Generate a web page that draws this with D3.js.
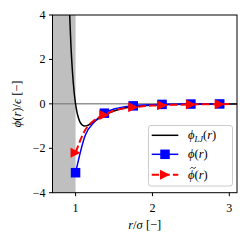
<!DOCTYPE html>
<html><head><meta charset="utf-8">
<script src="https://cdn.jsdelivr.net/npm/d3@7"></script>
<style>body{margin:0;background:#fff;} svg text{font-family:"Liberation Serif","DejaVu Serif",serif;fill:#000;}</style>
</head><body><svg id="c" width="252" height="242"></svg>
<script>
// ---- data ----
const rLJ = [0.90,0.92,0.94,0.96,0.98,1.00,1.02,1.04,1.06,1.08,1.10,1.12,1.15,1.20,1.25,1.30,1.40,1.50,1.60,1.80,2.00,2.25,2.50,2.75,3.00,3.10];
const phiLJ = [6.64,4.28,2.61,1.42,0.58,0,-0.40,-0.66,-0.83,-0.93,-0.98,-1.00,-0.98,-0.89,-0.77,-0.66,-0.46,-0.32,-0.22,-0.11,-0.06,-0.03,-0.016,-0.009,-0.005,-0.004];
const rFit = [1.000,1.125,1.250,1.375,1.500,1.625,1.750,1.875,2.000,2.125,2.250,2.375,2.500,2.625,2.750,2.875,3.000];
const phi = [-3.10,-1.42,-0.80,-0.42,-0.23,-0.14,-0.09,-0.055,-0.037,-0.025,-0.017,-0.012,-0.009,-0.006,-0.005,-0.004,-0.003];
const phiTilde = [-2.20,-1.18,-0.72,-0.50,-0.31,-0.21,-0.15,-0.108,-0.079,-0.059,-0.045,-0.035,-0.027,-0.021,-0.017,-0.014,-0.011];
const markEvery = 3;
const xTicks = [1,2,3];
const yTicks = [-4,-2,0,2,4];
const xDomain = [0.7,3.1];
const yDomain = [-4,4];
const shadeRange = [0.7,1.0];

// ---- layout ----
const svg = d3.select("#c");
const L = 52.5, T = 15, W = 184.5, H = 177.7;
const x = d3.scaleLinear().domain(xDomain).range([L, L+W]);
const y = d3.scaleLinear().domain(yDomain).range([T+H, T]);

svg.append("defs").append("clipPath").attr("id","clip")
  .append("rect").attr("x",L).attr("y",T).attr("width",W).attr("height",H);
const g = svg.append("g").attr("clip-path","url(#clip)");

// shaded region
g.append("rect").attr("x",x(shadeRange[0])).attr("y",T)
  .attr("width",x(shadeRange[1])-x(shadeRange[0])).attr("height",H)
  .attr("fill","#bfbfbf");
// zero line
g.append("line").attr("x1",L).attr("x2",L+W).attr("y1",y(0)).attr("y2",y(0))
  .attr("stroke","#808080").attr("stroke-width",1.5).attr("opacity",0.85);

// LJ
const lineLJ = d3.line().x((d,i)=>x(rLJ[i])).y(d=>y(d)).curve(d3.curveMonotoneX);
g.append("path").attr("d",lineLJ(phiLJ)).attr("fill","none").attr("stroke","#000").attr("stroke-width",1.5);

// phi
const lineF = d3.line().x((d,i)=>x(rFit[i])).y(d=>y(d)).curve(d3.curveMonotoneX);
g.append("path").attr("d",lineF(phi)).attr("fill","none").attr("stroke","#0000ff").attr("stroke-width",1.5);
const sq = 9.5;
function square(sel, cx, cy){
  sel.append("rect").attr("x",cx-sq/2).attr("y",cy-sq/2).attr("width",sq).attr("height",sq).attr("fill","#0000ff");
}
function tri(sel, cx, cy){
  const s=5;
  sel.append("path").attr("d",`M${cx+s},${cy} L${cx-s},${cy-s} L${cx-s},${cy+s} Z`).attr("fill","#ff0000");
}
phi.forEach((v,i)=>{ if(i%markEvery===0) square(g, x(rFit[i]), y(v)); });

// phi tilde
g.append("path").attr("d",lineF(phiTilde)).attr("fill","none").attr("stroke","#ff0000")
  .attr("stroke-width",2).attr("stroke-dasharray","7.4,3.2");
phiTilde.forEach((v,i)=>{ if(i%markEvery===0) tri(g, x(rFit[i]), y(v)); });

// frame
svg.append("rect").attr("x",L).attr("y",T).attr("width",W).attr("height",H)
  .attr("fill","none").attr("stroke","#000").attr("stroke-width",1);

// axes
const fs = 12;
xTicks.forEach(t=>{
  svg.append("line").attr("x1",x(t)).attr("x2",x(t)).attr("y1",T+H).attr("y2",T+H+3.5).attr("stroke","#000").attr("stroke-width",1);
  svg.append("text").attr("x",x(t)).attr("y",211.5).attr("text-anchor","middle").attr("font-size",fs).text(t);
});
yTicks.forEach(t=>{
  svg.append("line").attr("x1",L-3.5).attr("x2",L).attr("y1",y(t)).attr("y2",y(t)).attr("stroke","#000").attr("stroke-width",1);
  svg.append("text").attr("x",L-7).attr("y",y(t)+4).attr("text-anchor","end").attr("font-size",fs).text(t<0?"\u2212"+Math.abs(t):t);
});

// axis labels
const fl = 12.5;
const xl = svg.append("text").attr("x",L+W/2).attr("y",229).attr("text-anchor","middle").attr("font-size",fl);
xl.append("tspan").attr("font-style","italic").text("r");
xl.append("tspan").text("/");
xl.append("tspan").attr("font-style","italic").text("σ");
xl.append("tspan").text(" [\u2212]");

const yl = svg.append("text").attr("transform",`translate(21,${T+H/2}) rotate(-90)`).attr("text-anchor","middle").attr("font-size",fl);
yl.append("tspan").attr("font-style","italic").text("ϕ");
yl.append("tspan").text("(");
yl.append("tspan").attr("font-style","italic").text("r");
yl.append("tspan").text(")/");
yl.append("tspan").attr("font-style","italic").text("ϵ");
yl.append("tspan").text(" [\u2212]");

// legend
const lg = svg.append("g");
lg.append("rect").attr("x",148.5).attr("y",125.5).attr("width",84).attr("height",60.5).attr("rx",2.5)
  .attr("fill","#fff").attr("fill-opacity",0.8).attr("stroke","#cccccc").attr("stroke-width",1);
const ly = [135.3,154.3,174.7];
const lx1 = 151.7, lx2 = 178.3, lxm = (lx1+lx2)/2, tx = 188;
lg.append("line").attr("x1",lx1).attr("x2",lx2).attr("y1",ly[0]).attr("y2",ly[0]).attr("stroke","#000").attr("stroke-width",1.5);
lg.append("line").attr("x1",lx1).attr("x2",lx2).attr("y1",ly[1]).attr("y2",ly[1]).attr("stroke","#0000ff").attr("stroke-width",1.5);
square(lg, lxm, ly[1]);
lg.append("line").attr("x1",lx1).attr("x2",lx2).attr("y1",ly[2]).attr("y2",ly[2]).attr("stroke","#ff0000").attr("stroke-width",2).attr("stroke-dasharray","7.4,3.2");
tri(lg, lxm, ly[2]);

function lab(yy, sub, tilde){
  const t = lg.append("text").attr("x",tx).attr("y",yy+4).attr("font-size",fl);
  t.append("tspan").attr("font-style","italic").text("ϕ");
  if(sub){
    t.append("tspan").attr("font-style","italic").attr("font-size",8.5).attr("dy",2.5).text(sub);
    t.append("tspan").attr("dy",-2.5).text("(");
  } else t.append("tspan").text("(");
  t.append("tspan").attr("font-style","italic").text("r");
  t.append("tspan").text(")");
  if(tilde){
    const a = tx+2.2, b = yy-6.8;
    lg.append("path").attr("d",`M${a},${b+0.8} C${a+1},${b-0.8} ${a+2},${b-0.6} ${a+2.8},${b} S${a+4.6},${b+0.8} ${a+5.6},${b-0.8}`)
      .attr("fill","none").attr("stroke","#000").attr("stroke-width",0.8);
  }
}
lab(ly[0],"LJ",false);
lab(ly[1],null,false);
lab(ly[2],null,true);
</script></body></html>
